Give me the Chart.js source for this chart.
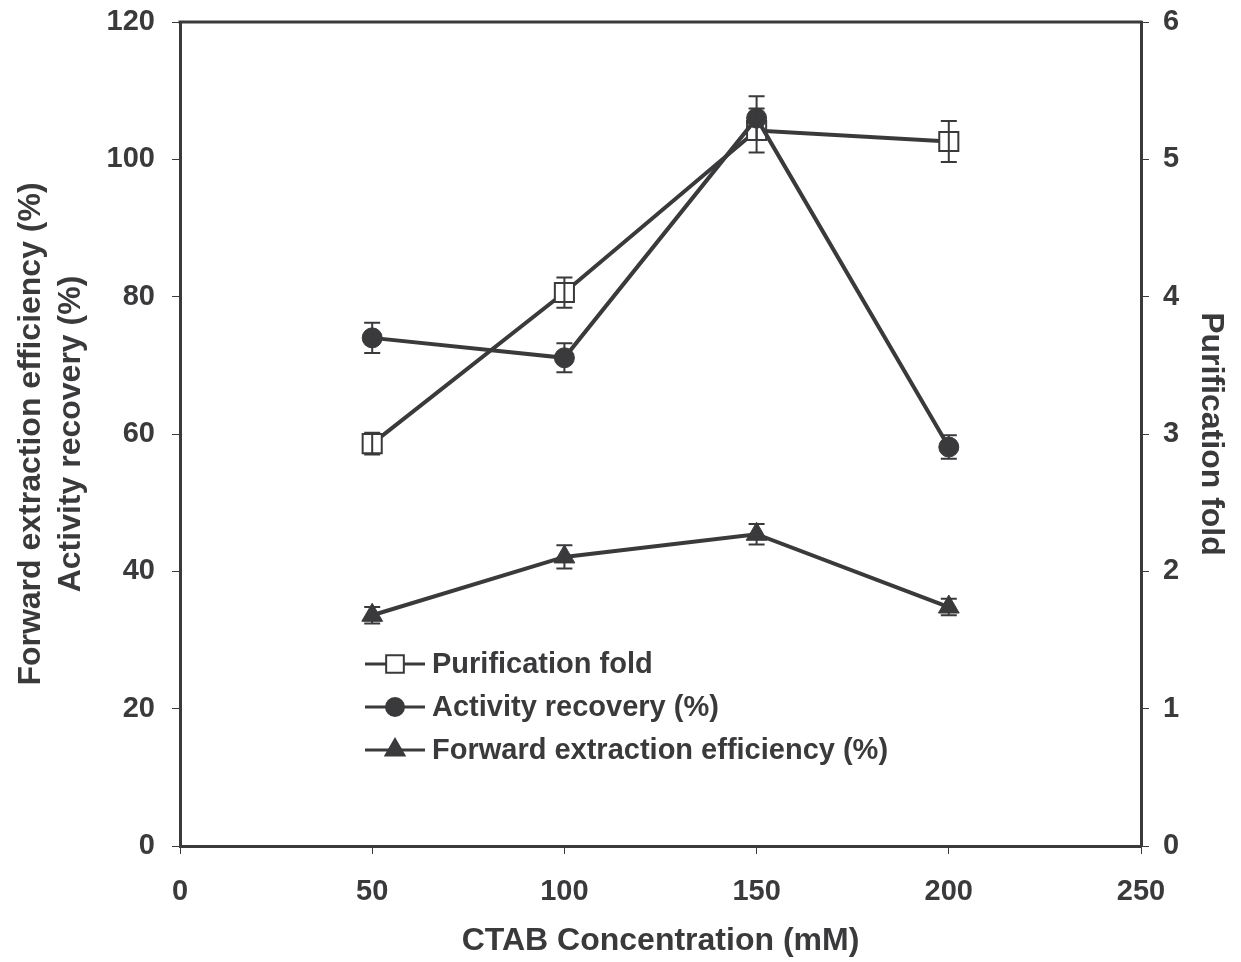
<!DOCTYPE html>
<html>
<head>
<meta charset="utf-8">
<script src="https://cdn.jsdelivr.net/npm/chart.js@4"></script>
<style>
  html, body { margin: 0; padding: 0; background: #fff; }
  #wrap { width: 1241px; height: 962px; }
</style>
</head>
<body>
<div id="wrap"><canvas id="myChart" width="1241" height="962"></canvas></div>
<script>
// CTAB concentration (mM)
const ctab = [50, 100, 150, 200];
// purification fold (right axis)
const foldValues = [2.93, 4.03, 5.21, 5.13];
const foldErr = [0.08, 0.11, 0.16, 0.15];
// activity recovery (%)
const activityValues = [74.0, 71.1, 106.0, 58.1];
const activityErr = [2.2, 2.1, 3.2, 1.7];
// forward extraction efficiency (%)
const forwardValues = [33.6, 42.1, 45.4, 34.8];
const forwardErr = [1.2, 1.7, 1.5, 1.2];

const ink = '#3a3a3c';
const family = '"Liberation Sans", Arial, sans-serif';
const tickFont = { family, size: 29, weight: 'bold' };
const titleFont = { family, size: 32, weight: 'bold', lineHeight: 1.25 };

const toXY = (vals) => vals.map((v, i) => ({ x: ctab[i], y: v }));

// top edge of the frame
const framePlugin = {
  id: 'frame',
  afterDraw(chart) {
    const { ctx, chartArea: a } = chart;
    ctx.save();
    ctx.strokeStyle = ink;
    ctx.lineWidth = 3;
    ctx.beginPath();
    ctx.moveTo(a.left - 1.5, a.top);
    ctx.lineTo(a.right + 1.5, a.top);
    ctx.stroke();
    ctx.restore();
  }
};

// vertical error bars
const errorBars = {
  id: 'errorBars',
  afterDatasetsDraw(chart) {
    const { ctx } = chart;
    ctx.save();
    ctx.strokeStyle = ink;
    ctx.lineWidth = 2;
    chart.data.datasets.forEach((ds, di) => {
      const meta = chart.getDatasetMeta(di);
      const ys = chart.scales[ds.yAxisID];
      ds.data.forEach((p, i) => {
        const e = ds.errors[i];
        const x = meta.data[i].x;
        const y1 = ys.getPixelForValue(p.y + e);
        const y2 = ys.getPixelForValue(p.y - e);
        ctx.beginPath();
        ctx.moveTo(x, y1); ctx.lineTo(x, y2);
        ctx.moveTo(x - 8, y1); ctx.lineTo(x + 8, y1);
        ctx.moveTo(x - 8, y2); ctx.lineTo(x + 8, y2);
        ctx.stroke();
      });
    });
    ctx.restore();
  }
};

// legend inside the plot area
const innerLegend = {
  id: 'innerLegend',
  afterDraw(chart) {
    const { ctx, chartArea: a } = chart;
    const x0 = a.left + 185, y0 = a.top + 642, gap = 43;
    ctx.save();
    ctx.font = `bold 29px ${family}`;
    ctx.textBaseline = 'middle';
    chart.data.datasets.forEach((ds, i) => {
      const y = y0 + i * gap;
      ctx.strokeStyle = ink;
      ctx.lineWidth = 3;
      ctx.beginPath();
      ctx.moveTo(x0, y); ctx.lineTo(x0 + 60, y);
      ctx.stroke();
      ctx.fillStyle = ds.pointBackgroundColor;
      ctx.strokeStyle = ds.pointBorderColor;
      ctx.lineWidth = 2;
      Chart.helpers.drawPoint(ctx, { pointStyle: ds.pointStyle, radius: ds.pointRadius - 1, borderWidth: 2 }, x0 + 30, y);
      ctx.fillStyle = ink;
      ctx.fillText(ds.label, x0 + 67, y + 1);
    });
    ctx.restore();
  }
};

const fixVertical = (w) => (s) => {
  s.width = w;
  s.paddingTop = 0;
  s.paddingBottom = 0;
};

const ctx = document.getElementById('myChart').getContext('2d');
const myChart = new Chart(ctx, {
  type: 'line',
  data: {
    datasets: [
      {
        label: 'Purification fold',
        data: toXY(foldValues),
        errors: foldErr,
        yAxisID: 'y2',
        order: 2,
        borderColor: ink,
        borderWidth: 4,
        pointStyle: 'rect',
        pointRadius: 13.5,
        pointBackgroundColor: '#fff',
        pointBorderColor: ink,
        pointBorderWidth: 2,
        fill: false
      },
      {
        label: 'Activity recovery (%)',
        data: toXY(activityValues),
        errors: activityErr,
        yAxisID: 'y',
        order: 0,
        borderColor: ink,
        borderWidth: 4,
        pointStyle: 'circle',
        pointRadius: 10,
        pointBackgroundColor: ink,
        pointBorderColor: ink,
        pointBorderWidth: 1,
        fill: false
      },
      {
        label: 'Forward extraction efficiency (%)',
        data: toXY(forwardValues),
        errors: forwardErr,
        yAxisID: 'y',
        order: 1,
        borderColor: ink,
        borderWidth: 4,
        pointStyle: 'triangle',
        pointRadius: 12,
        pointBackgroundColor: ink,
        pointBorderColor: ink,
        pointBorderWidth: 1,
        fill: false
      }
    ]
  },
  options: {
    responsive: false,
    animation: false,
    layout: { autoPadding: false, padding: { top: 22, left: 0, right: 0, bottom: 0 } },
    plugins: { legend: { display: false }, tooltip: { enabled: false } },
    scales: {
      x: {
        type: 'linear',
        min: 0, max: 250,
        ticks: { stepSize: 50, color: ink, font: tickFont, padding: 21 },
        grid: { drawOnChartArea: false, tickLength: 8, color: ink, lineWidth: 1 },
        border: { display: true, color: ink, width: 3 },
        title: { display: true, text: 'CTAB Concentration (mM)', color: ink, font: titleFont, padding: { top: 4, bottom: 1 } },
        afterFit(s) { s.height = 116; }
      },
      y: {
        position: 'left',
        min: 0, max: 120,
        ticks: { stepSize: 20, color: ink, font: tickFont, padding: 17 },
        grid: { drawOnChartArea: false, tickLength: 8, color: ink, lineWidth: 1 },
        border: { display: true, color: ink, width: 3 },
        title: {
          display: true,
          text: ['Forward extraction efficiency (%)', 'Activity recovery (%)'],
          color: ink, font: titleFont, padding: { top: 11, bottom: 0 }
        },
        afterFit: fixVertical(180)
      },
      y2: {
        position: 'right',
        min: 0, max: 6,
        ticks: { stepSize: 1, color: ink, font: tickFont, padding: 14 },
        grid: { drawOnChartArea: false, tickLength: 8, color: ink, lineWidth: 1 },
        border: { display: true, color: ink, width: 3 },
        title: { display: true, text: 'Purification fold', color: ink, font: titleFont, padding: { top: 10, bottom: 0 } },
        afterFit: fixVertical(100)
      }
    }
  },
  plugins: [framePlugin, errorBars, innerLegend]
});
</script>
</body>
</html>
